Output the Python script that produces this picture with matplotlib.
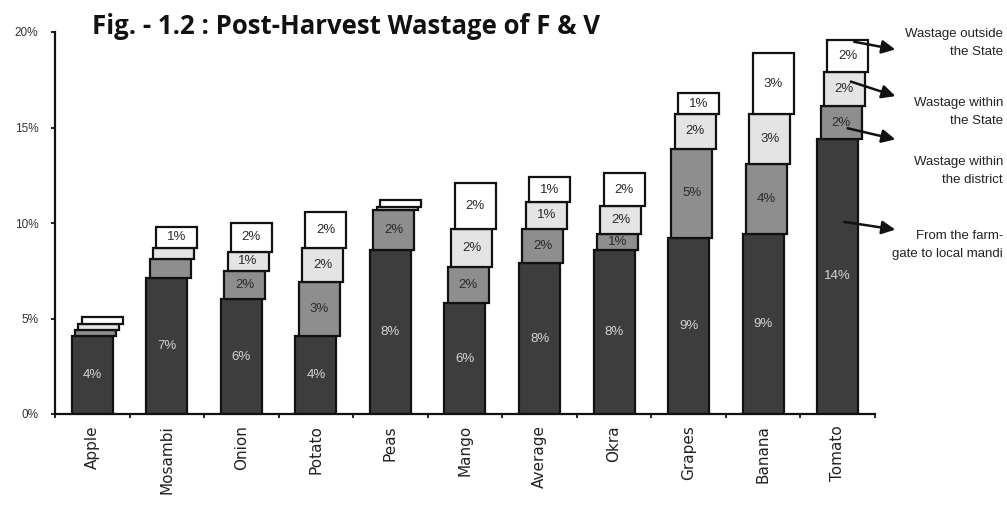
import matplotlib
matplotlib.use("Agg")
import matplotlib.pyplot as plt
import numpy as np

categories = ["Apple", "Mosambi", "Onion", "Potato", "Peas", "Mango",
              "Average", "Okra", "Grapes", "Banana", "Tomato"]

farm_to_mandi = [4.1, 7.1, 6.0, 4.1, 8.6, 5.8, 7.9, 8.6, 9.2, 9.4, 14.4]
within_district = [0.3, 1.0, 1.5, 2.8, 2.1, 1.9, 1.8, 0.8, 4.7, 3.7, 1.7]
within_state = [0.3, 0.6, 1.0, 1.8, 0.15, 2.0, 1.4, 1.5, 1.8, 2.6, 1.8]
outside_state = [0.4, 1.1, 1.5, 1.9, 0.35, 2.4, 1.3, 1.7, 1.1, 3.2, 1.7]

lbl_farm = ["4%", "7%", "6%", "4%", "8%", "6%", "8%", "8%", "9%", "9%", "14%"]
lbl_district = ["", "", "2%", "3%", "2%", "2%", "2%", "1%", "5%", "4%", "2%"]
lbl_state = ["", "", "1%", "2%", "", "2%", "1%", "2%", "2%", "3%", "2%"]
lbl_outside = ["", "1%", "2%", "2%", "", "2%", "1%", "2%", "1%", "3%", "2%"]

legend_texts = ["Wastage outside\nthe State",
                "Wastage within\nthe State",
                "Wastage within\nthe district",
                "From the farm-\ngate to local mandi"]

yticks = [0, 5, 10, 15, 20]
ytick_labels = ["0%", "5%", "10%", "15%", "20%"]

title = "Fig. - 1.2 : Post-Harvest Wastage of F & V"

W, H = 1007, 512
fig = plt.figure(figsize=(W / 100, H / 100), dpi=100)
fig.patch.set_facecolor("white")
ax = fig.add_axes([55 / W, 1 - 414 / H, (875 - 55) / W, (414 - 32) / H])

x = np.arange(len(categories))
series = [farm_to_mandi, within_district, within_state, outside_state]
labels = [lbl_farm, lbl_district, lbl_state, lbl_outside]
colors = ["#3d3d3d", "#8e8e8e", "#e4e4e4", "#ffffff"]
txt_colors = ["#d4d4d4", "#2a2a2a", "#2a2a2a", "#2a2a2a"]
width = 0.55
shift = 0.045

bottom = np.zeros(len(categories))
bottoms = []
for k, (vals, col) in enumerate(zip(series, colors)):
    vals = np.array(vals)
    bottoms.append(bottom.copy())
    bars = ax.bar(x + k * shift, vals, width=width, bottom=bottom, color=col,
                  edgecolor="#111111", linewidth=1.6, zorder=2 + k)
    for i, b in enumerate(bars):
        if labels[k][i]:
            ax.text(b.get_x() + b.get_width() / 2, bottom[i] + vals[i] / 2,
                    labels[k][i], ha="center", va="center", fontsize=9.5,
                    color=txt_colors[k], family="Liberation Sans",
                    zorder=10)
    bottom = bottom + vals

ax.set_xlim(-0.45, 10.4)
ax.set_ylim(0, 20)
ax.set_yticks(yticks)
ax.set_yticklabels(ytick_labels, fontsize=8.5, family="Liberation Sans",
                   color="#333333")
ax.set_xticks(x)
ax.set_xticklabels(categories, rotation=90, fontsize=11,
                   family="DejaVu Sans", color="#222222")
ax.tick_params(axis="x", length=0, pad=8)
ax.set_xticks(np.arange(len(categories) + 1) - 0.5, minor=True)
ax.tick_params(axis="x", which="minor", length=3, width=1.2, direction="out")
ax.tick_params(axis="y", length=3, width=1.2, direction="out", pad=9)
for s in ["top", "right"]:
    ax.spines[s].set_visible(False)
for s in ["left", "bottom"]:
    ax.spines[s].set_linewidth(1.6)
    ax.spines[s].set_color("#111111")

fig.text(92 / W, 1 - 27 / H, title, fontsize=18.5, fontweight="bold",
         family="Open Sans", color="#111111", va="center", ha="left")

# legend annotations with arrows from Tomato segments
ti = len(categories) - 1
fracs = [0.95, 0.75, 0.35, 0.7]
seg_order = [3, 2, 1, 0]
text_y = [43, 112, 171, 245]
head_y = [50, 97, 140, 230]
for j, (seg, fr) in enumerate(zip(seg_order, fracs)):
    ty = bottoms[seg][ti] + series[seg][ti] * fr
    tx = ti + seg * shift + 0.05
    ax.annotate("", xy=(898 / W, 1 - head_y[j] / H), xycoords="figure fraction",
                xytext=(tx, ty), textcoords="data",
                arrowprops=dict(arrowstyle="-|>,head_length=0.8,head_width=0.4",
                                color="#111111", lw=1.8),
                zorder=20, annotation_clip=False)
    fig.text(1003 / W, 1 - text_y[j] / H, legend_texts[j], ha="right",
             va="center", fontsize=9.5, family="Liberation Sans",
             color="#222222", linespacing=1.6, multialignment="right")

fig.savefig("out.png", dpi=100, facecolor="white")
